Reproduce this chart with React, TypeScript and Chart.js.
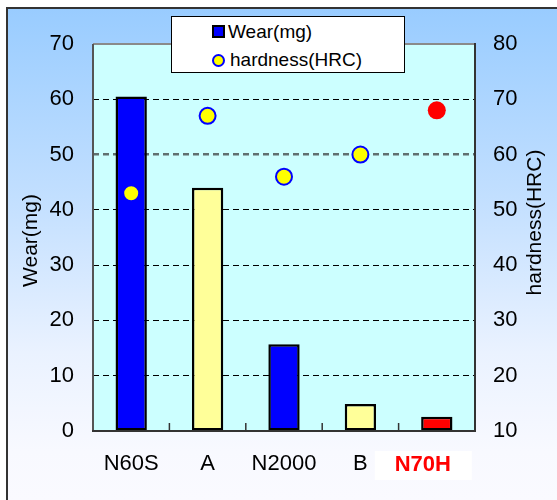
import React, { useEffect, useRef } from "react";
import { Chart, registerables } from "chart.js";

Chart.register(...registerables);

const categories = ["N60S", "A", "N2000", "B", "N70H"];
const wearValues = [60.5, 44, 15.7, 4.9, 2.6];
const hardnessValues = [53, 67, 56, 60, 68];
const barColors = ["#0000FF", "#FFFF99", "#0000FF", "#FFFF99", "#FF0000"];
const pointFillColors = ["#FFFF00", "#FFFF00", "#FFFF00", "#FFFF00", "#FF0000"];
const pointEdgeColors = ["#0000FF", "#0000FF", "#0000FF", "#0000FF", "#FF0000"];
const pointRadii = [8, 8, 8, 8, 9];
const pointEdgeWidths = [2, 2, 2, 2, 0];
const wearRange = [0, 70];
const hardnessRange = [10, 80];
const tickStep = 10;
const highlightedCategory = 4;
const leftTitle = "Wear(mg)";
const rightTitle = "hardness(HRC)";
const legendLabels = ["Wear(mg)", "hardness(HRC)"];

const FONT = "'Liberation Sans', Arial, sans-serif";

const decorPlugin = {
  id: "decor",
  beforeDraw(chart: any) {
    const { ctx, chartArea: a } = chart;
    ctx.save();
    ctx.fillStyle = "#CCFFFF";
    ctx.fillRect(a.left, a.top, a.right - a.left, a.bottom - a.top);
    ctx.restore();
  },
  beforeDatasetsDraw(chart: any) {
    const { ctx, chartArea: a } = chart;
    const xs = chart.scales.x;
    ctx.save();
    ctx.lineWidth = 1.5;
    ctx.strokeStyle = "#333";
    for (let i = 1; i < categories.length; i++) {
      const bx = (xs.getPixelForValue(i - 1) + xs.getPixelForValue(i)) / 2;
      ctx.beginPath();
      ctx.moveTo(bx, a.bottom);
      ctx.lineTo(bx, a.bottom - 8);
      ctx.stroke();
    }
    ctx.restore();
  },
  afterDatasetsDraw(chart: any) {
    const { ctx, chartArea: a } = chart;
    ctx.save();
    ctx.lineWidth = 2;
    ctx.strokeStyle = "#8a8a8a";
    ctx.beginPath();
    ctx.moveTo(a.left, a.top);
    ctx.lineTo(a.right, a.top);
    ctx.stroke();
    ctx.strokeStyle = "#555";
    ctx.beginPath();
    ctx.moveTo(a.left, a.top);
    ctx.lineTo(a.left, a.bottom);
    ctx.stroke();
    ctx.strokeStyle = "#333";
    ctx.beginPath();
    ctx.moveTo(a.left - 1, a.bottom);
    ctx.lineTo(a.right + 1, a.bottom);
    ctx.moveTo(a.right, a.top - 1);
    ctx.lineTo(a.right, a.bottom);
    ctx.stroke();
    ctx.restore();
  },
  afterDraw(chart: any) {
    const { ctx, chartArea: a } = chart;
    const xs = chart.scales.x;
    const mid = (a.top + a.bottom) / 2;
    ctx.save();
    ctx.fillStyle = "#000";
    ctx.font = `21px ${FONT}`;
    ctx.textAlign = "center";
    ctx.textBaseline = "middle";
    ctx.save();
    ctx.translate(a.left - 62, mid + 3);
    ctx.rotate(-Math.PI / 2);
    ctx.fillText(leftTitle, 0, 0);
    ctx.restore();
    ctx.save();
    ctx.translate(a.right + 60, mid - 15);
    ctx.rotate(-Math.PI / 2);
    ctx.fillText(rightTitle, 0, 0);
    ctx.restore();
    // highlighted category label
    const cx = xs.getPixelForValue(highlightedCategory) - 14;
    const cy = a.bottom + 34;
    ctx.fillStyle = "#FFFFFF";
    ctx.fillRect(cx - 48, cy - 14, 97, 29);
    ctx.fillStyle = "#FF0000";
    ctx.font = `bold 22px ${FONT}`;
    ctx.fillText(categories[highlightedCategory], cx, cy);
    ctx.restore();
  },
};

export default function App() {
  const canvasRef = useRef<HTMLCanvasElement | null>(null);

  useEffect(() => {
    if (!canvasRef.current) return;
    const chart = new Chart(canvasRef.current, {
      type: "bar",
      data: {
        labels: categories,
        datasets: [
          {
            type: "line",
            label: legendLabels[1],
            data: hardnessValues,
            yAxisID: "y1",
            showLine: false,
            pointRadius: pointRadii,
            pointHoverRadius: pointRadii,
            pointBackgroundColor: pointFillColors,
            pointBorderColor: pointEdgeColors,
            pointBorderWidth: pointEdgeWidths,
            order: 0,
          } as any,
          {
            type: "bar",
            label: legendLabels[0],
            data: wearValues,
            yAxisID: "y",
            backgroundColor: barColors,
            borderColor: "#000000",
            borderWidth: 2.5,
            borderSkipped: false,
            barPercentage: 0.41,
            categoryPercentage: 1,
            order: 1,
          } as any,
        ],
      },
      options: {
        responsive: false,
        animation: false,
        devicePixelRatio: 1,
        layout: { padding: { top: 44, left: 0, right: 0, bottom: 0 } },
        plugins: {
          legend: { display: false },
          tooltip: { enabled: false },
        },
        scales: {
          x: {
            type: "category",
            offset: true,
            grid: { display: false, drawTicks: false },
            border: { display: false },
            ticks: {
              color: "#000",
              font: { family: FONT, size: 22 },
              padding: 20,
              maxRotation: 0,
              autoSkip: false,
              callback: (_v: any, i: number) =>
                i === highlightedCategory ? "" : categories[i],
            },
            afterFit: (s: any) => {
              s.height = 69;
            },
          },
          y: {
            position: "left",
            min: wearRange[0],
            max: wearRange[1],
            grid: {
              drawTicks: false,
              color: (c: any) => {
                const v = c.tick ? c.tick.value : 0;
                if (v === wearRange[0] || v === wearRange[1]) return "rgba(0,0,0,0)";
                return v === 50 ? "#607070" : "#000000";
              },
              lineWidth: (c: any) => (c.tick && c.tick.value === 50 ? 2.5 : 1),
            },
            border: { display: false, dash: [6, 4] },
            ticks: {
              stepSize: tickStep,
              color: "#000",
              font: { family: FONT, size: 22 },
              padding: 19,
            },
            afterFit: (s: any) => {
              s.width = 93;
            },
          },
          y1: {
            position: "right",
            min: hardnessRange[0],
            max: hardnessRange[1],
            grid: { display: false, drawTicks: false },
            border: { display: false },
            ticks: {
              stepSize: tickStep,
              color: "#000",
              font: { family: FONT, size: 22 },
              padding: 18,
            },
            afterFit: (s: any) => {
              s.width = 82;
            },
          },
        },
      } as any,
      plugins: [decorPlugin],
    });
    return () => chart.destroy();
  }, []);

  return (
    <div>
      <div
        style={{
          position: "fixed",
          left: 6,
          top: 7,
          right: 0,
          bottom: 0,
          borderTop: "2px solid #333",
          borderLeft: "2px solid #333",
          background:
            "linear-gradient(to bottom, #99CCFF 0%, #C4E0FF 40%, #EAF2FF 70%, #F8F9FF 90%, #FAFAFF 100%)",
          zIndex: 0,
        }}
      />
      <canvas
        ref={canvasRef}
        width={557}
        height={500}
        style={{ position: "fixed", left: 0, top: 0, width: 557, height: 500, zIndex: 1 }}
      />
      <div
        style={{
          position: "fixed",
          left: 171,
          top: 16,
          width: 234,
          height: 57,
          boxSizing: "border-box",
          background: "#FFFFFF",
          border: "1px solid #000",
          zIndex: 2,
          fontFamily: FONT,
          fontSize: 19,
          color: "#000",
        }}
      >
        <div
          style={{
            position: "absolute",
            left: 40,
            top: 8,
            width: 13,
            height: 13,
            boxSizing: "border-box",
            border: "2px solid #000",
            background: "#0000FF",
          }}
        />
        <span style={{ position: "absolute", left: 56, top: 4, lineHeight: "22px", whiteSpace: "nowrap" }}>
          {legendLabels[0]}
        </span>
        <div
          style={{
            position: "absolute",
            left: 40,
            top: 37,
            width: 13,
            height: 13,
            boxSizing: "border-box",
            border: "2px solid #0000FF",
            borderRadius: "50%",
            background: "#FFFF00",
          }}
        />
        <span style={{ position: "absolute", left: 58, top: 32, lineHeight: "22px", whiteSpace: "nowrap" }}>
          {legendLabels[1]}
        </span>
      </div>
    </div>
  );
}
